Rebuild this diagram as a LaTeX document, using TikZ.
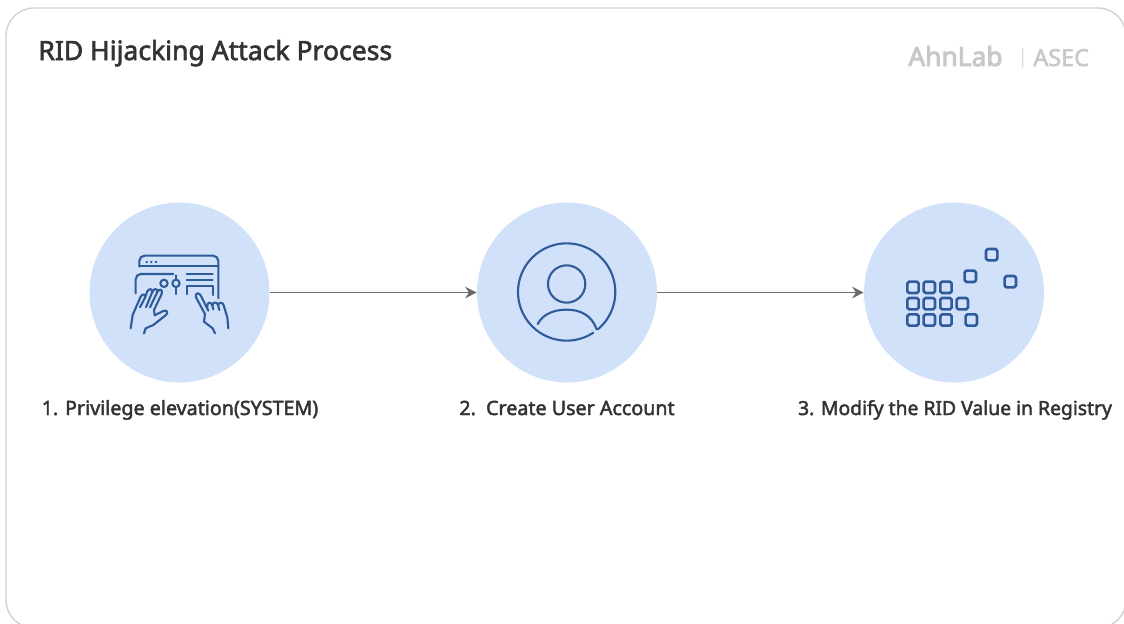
\documentclass[tikz,border=0pt]{standalone}
\usepackage{fontspec}
\usetikzlibrary{arrows.meta}
\setmainfont{Noto Sans}
\newcommand{\heavytext}[2]{\special{pdf:code 2 Tr #1 w}#2\special{pdf:code 0 Tr}}
\definecolor{iconblue}{HTML}{2F5B9B}
\definecolor{discblue}{HTML}{D0E1F9}
\definecolor{inkgray}{HTML}{333333}
\definecolor{logogray}{HTML}{C8C8C8}
\tikzset{
    stepdisc/.style={circle,fill=discblue,minimum size=3.6cm,inner sep=0pt},
    steplabel/.style={anchor=base,font=\fontsize{11.2}{13}\selectfont,text=inkgray,inner sep=0pt},
    logotext/.style={anchor=base west,font=\fontsize{15}{17}\selectfont,text=logogray,inner sep=0pt},
    flowline/.style={draw=black!58,line width=1.1pt,-{Stealth[length=6.5pt,width=6.5pt]}},
    iconline/.style={draw=iconblue,line width=1.2pt,line cap=round,line join=round},
}
\begin{document}
\begin{tikzpicture}[x=0.02cm,y=-0.02cm]
    \useasboundingbox (0,0) rectangle (1124,623);
    \clip (0,0) rectangle (1124,623);

    % frame
    \draw[black!18,line width=0.8pt,rounded corners=0.56cm] (6,8) rectangle (1126,628);

    % header
    \node[anchor=base west,inner sep=0pt,font=\fontsize{15.1}{17}\selectfont,text=inkgray] (title) at (38,60) {\heavytext{0.35}{RID Hijacking Attack Process}};
    \node[logotext] (ahnlab) at (908,66) {\heavytext{0.5}{AhnLab}};
    \node[logotext,text=black!15,font=\fontsize{11}{13}\selectfont] (bar) at (1017,63) {|};
    \node[logotext,font=\fontsize{13.3}{16}\selectfont] (asec) at (1033,66) {\heavytext{0.3}{ASEC}};

    % steps
    \node[stepdisc] (privilege) at (179.5,292.5) {};
    \node[stepdisc] (account) at (567,292.5) {};
    \node[stepdisc] (registry) at (954,292.5) {};

    \draw[flowline] (privilege) -- (account);
    \draw[flowline] (account) -- (registry);

    \node[steplabel] (privilegetext) at (180,415) {\heavytext{0.25}{1. Privilege elevation(SYSTEM)}};
    \node[steplabel] (accounttext) at (567,415) {\heavytext{0.25}{2.\ \ Create User Account}};
    \node[steplabel,font=\fontsize{11}{13}\selectfont] (registrytext) at (955,415) {\heavytext{0.25}{3. Modify the RID Value in Registry}};

    % keyboard icon
    \begin{scope}[shift={(90,200)},scale=0.3333,iconline]
        \draw[rounded corners=3pt] (148,200) -- (148,167) -- (385,167) -- (385,295);
        \draw (148,198) -- (385,198);
        \foreach \dotx in {170,184,198}
            \fill[iconblue] (\dotx,186) circle (4);
        \draw[rounded corners=3pt] (137,280) -- (137,222) -- (250,222);
        \draw (222,250) circle (11);
        \draw (258,250) circle (11);
        \draw (258,226) -- (258,239);
        \draw (258,261) -- (258,282);
        \draw (290,222) -- (368,222);
        \draw (290,240) -- (368,240);
        \draw (290,282) -- (290,258) -- (368,258) -- (368,285);
        % left hand
        \draw (122,385) -- (128,345) -- (152,290) .. controls (157,280) and (168,282) .. (165,293) -- (150,322);
        \draw (165,293) -- (172,274) .. controls (177,264) and (190,266) .. (186,278) -- (168,322);
        \draw (186,278) .. controls (190,264) and (204,264) .. (202,276) -- (180,322);
        \draw (202,276) .. controls (207,264) and (220,268) .. (215,282) -- (192,330) -- (194,346) -- (220,333) .. controls (230,328) and (236,338) .. (228,345) -- (190,375) -- (167,385) -- (162,400);
        % right hand
        \draw (375,400) -- (368,385) -- (342,365) -- (345,342) -- (318,292) .. controls (314,278) and (328,276) .. (333,288) -- (355,332);
        \draw (352,322) .. controls (350,306) and (362,304) .. (366,314) -- (370,328);
        \draw (368,316) .. controls (368,306) and (380,304) .. (384,314) -- (388,330);
        \draw (385,314) .. controls (388,306) and (398,306) .. (401,316) -- (412,352) -- (415,385);
    \end{scope}

    % user icon
    \begin{scope}[shift={(480,200)},scale=0.3333,iconline]
        \draw (260,276) ++(57:146) arc[start angle=57,end angle=410,radius=146];
        \draw (260,252) circle (56);
        \draw (173,372) .. controls (190,340) and (225,329) .. (260,329) .. controls (300,329) and (335,345) .. (350,388);
    \end{scope}

    % registry icon
    \begin{scope}[shift={(860,200)},scale=0.3333,iconline]
        \foreach \cellx/\celly in {159/262,208/262,258/262,159/311,208/311,258/311,307/311,159/360,208/360,258/360,334/360,331/229,395/164,451/245}
            \draw[line width=1.5pt,rounded corners=1pt] (\cellx-17,\celly-17) rectangle (\cellx+17,\celly+17);
    \end{scope}
\end{tikzpicture}
\end{document}
